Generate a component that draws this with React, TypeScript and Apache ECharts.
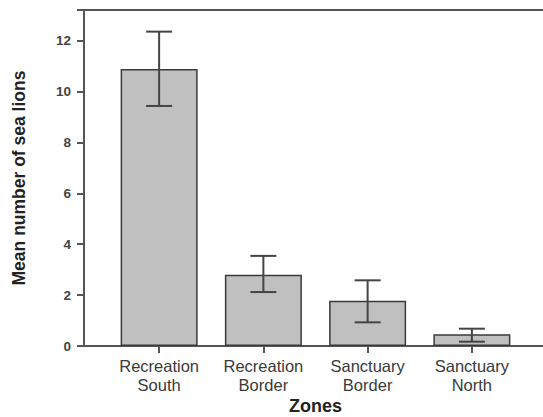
import React, { useEffect, useRef } from "react";
import * as echarts from "echarts";

const categories = ["Recreation\nSouth", "Recreation\nBorder", "Sanctuary\nBorder", "Sanctuary\nNorth"];
const means = [10.88, 2.8, 1.78, 0.46];
const errLow = [9.43, 2.12, 0.93, 0.17];
const errHigh = [12.35, 3.54, 2.58, 0.68];
const yTicks = [0, 2, 4, 6, 8, 10, 12];

export default function App() {
  const ref = useRef<HTMLDivElement>(null);
  useEffect(() => {
    if (!ref.current) return;
    const chart = echarts.init(ref.current, null, { renderer: "svg" });
    const axisColor = "#555555";
    const font = "Arial, 'Liberation Sans', sans-serif";
    chart.setOption({
      animation: false,
      backgroundColor: "#ffffff",
      grid: [
        { left: 84, right: 0, top: 10, bottom: 71, containLabel: false, outerBoundsMode: "none" },
        { left: 107, right: 19, top: 10, bottom: 71, containLabel: false, outerBoundsMode: "none" },
      ],
      xAxis: [
        {
          gridIndex: 0, type: "value", min: 0, max: 1, position: "bottom",
          axisLine: { show: true, lineStyle: { color: axisColor, width: 2 } },
          axisTick: { show: false }, axisLabel: { show: false }, splitLine: { show: false },
        },
        {
          gridIndex: 0, type: "value", min: 0, max: 1, position: "top",
          axisLine: { show: true, lineStyle: { color: axisColor, width: 2 } },
          axisTick: { show: false }, axisLabel: { show: false }, splitLine: { show: false },
        },
        {
          gridIndex: 1, type: "category", data: categories, position: "bottom",
          axisLine: { show: false },
          axisTick: { show: true, alignWithLabel: true, length: 7, lineStyle: { color: axisColor, width: 2 } },
          axisLabel: { fontSize: 16.5, lineHeight: 19, color: "#3a3a3a", fontFamily: font, margin: 10, interval: 0 },
          name: "Zones", nameLocation: "middle", nameGap: 51, nameMoveOverlap: false,
          nameTextStyle: { fontSize: 18, lineHeight: 18, fontWeight: "bold", color: "#222", fontFamily: font },
        },
      ],
      yAxis: [
        {
          gridIndex: 0, type: "value", min: 0, max: 13.2, interval: 2,
          axisLine: { show: true, lineStyle: { color: axisColor, width: 2 } },
          axisTick: { show: true, length: 7, lineStyle: { color: axisColor, width: 2 } },
          axisLabel: {
            fontSize: 13.5, fontWeight: "bold", color: "#444", fontFamily: font, margin: 13,
            formatter: (v: number) => (yTicks.includes(v) ? String(v) : ""),
          },
          splitLine: { show: false },
          name: "Mean number of sea lions", nameLocation: "middle", nameGap: 56,
          nameTextStyle: { fontSize: 17.5, fontWeight: "bold", color: "#222", fontFamily: font },
        },
        {
          gridIndex: 1, type: "value", min: 0, max: 13.2, show: false,
        },
      ],
      series: [
        {
          type: "bar", xAxisIndex: 2, yAxisIndex: 1, data: means, barWidth: 77,
          itemStyle: { color: "#c0c0c0", borderColor: "#3a3a3a", borderWidth: 1.5 },
        },
        {
          type: "custom", xAxisIndex: 2, yAxisIndex: 1,
          data: means.map((_, i) => [i, errLow[i], errHigh[i]]),
          renderItem: (params: any, api: any) => {
            const x = api.value(0);
            const lo = api.coord([x, api.value(1)]);
            const hi = api.coord([x, api.value(2)]);
            const hw = 13;
            const style = { stroke: "#444", lineWidth: 2 };
            return {
              type: "group",
              children: [
                { type: "line", shape: { x1: lo[0], y1: lo[1], x2: hi[0], y2: hi[1] }, style },
                { type: "line", shape: { x1: hi[0] - hw, y1: hi[1], x2: hi[0] + hw, y2: hi[1] }, style },
                { type: "line", shape: { x1: lo[0] - hw, y1: lo[1], x2: lo[0] + hw, y2: lo[1] }, style },
              ],
            };
          },
          z: 10,
        },
      ],
    });
    return () => chart.dispose();
  }, []);
  return <div ref={ref} style={{ width: 543, height: 417, position: "absolute", left: 0, top: 0 }} />;
}
